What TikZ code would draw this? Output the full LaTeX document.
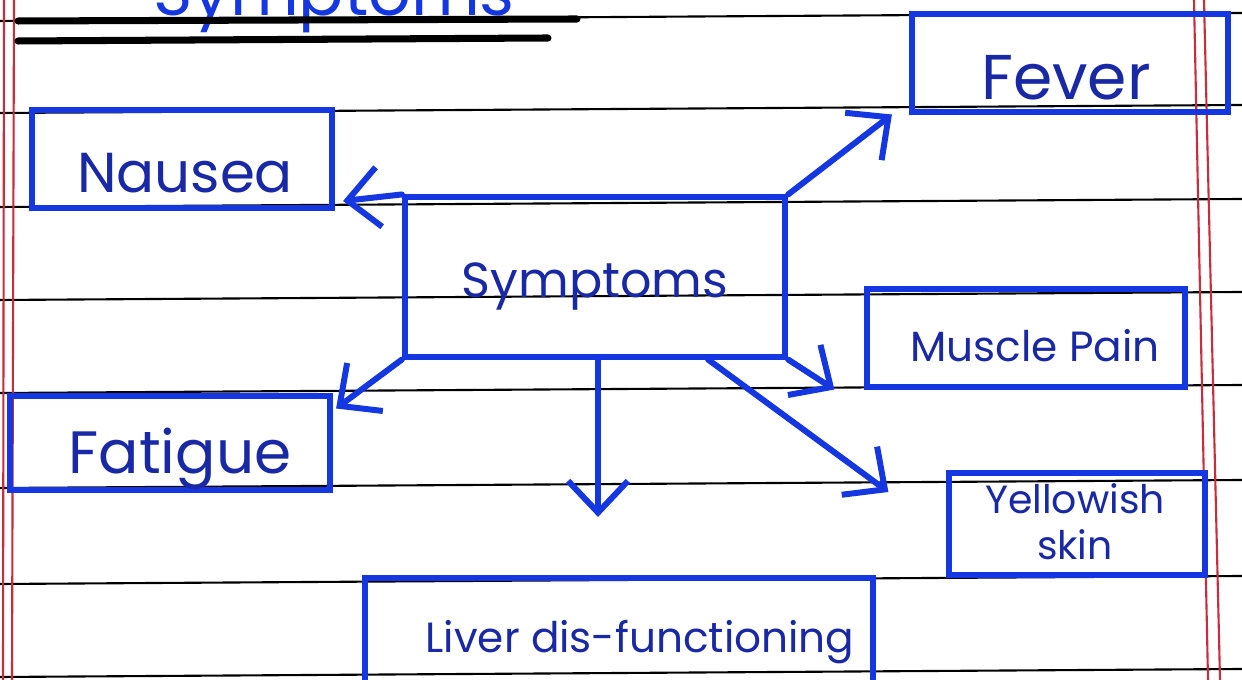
\documentclass[tikz,border=0pt]{standalone}
\usepackage{fontspec}
\setmainfont{Poppins}
\usetikzlibrary{arrows.meta}

\definecolor{ink}{RGB}{20,55,225}
\definecolor{inktext}{RGB}{25,40,165}
\definecolor{margin}{RGB}{200,45,60}

\begin{document}
\begin{tikzpicture}[x=0.01cm, y=-0.01cm,
    box/.style={draw=ink, line width=1.7pt, inner sep=0pt},
    txt/.style={text=inktext, inner sep=0pt, anchor=base},
    arr/.style={draw=ink, line width=1.7pt, line cap=round,
        -{Straight Barb[length=9pt, width=17pt]}},
    rule/.style={black, line width=0.6pt},
    uline/.style={black, line width=2pt, line cap=round},
    marginline/.style={margin, line width=0.6pt}]

    % Page of the notebook
    \useasboundingbox (0,0) rectangle (1242,680);
    \clip (0,0) rectangle (1242,680);
    \fill[white] (0,0) rectangle (1242,680);

    % Ruled lines and the red margins
    \foreach \y in {21,113,207,300,393,488,584,677}
        \draw[rule] (0,\y) -- (1242,\y-8);
    \draw[marginline] (4,0) -- (3,680);
    \draw[marginline] (14,0) -- (12,680);
    \draw[marginline] (1194,0) -- (1208,680);
    \draw[marginline] (1204,0) -- (1220,680);

    % Heading, cut off at the top, and its underlines
    \node[txt, text=ink, font=\fontsize{19}{19}\selectfont] (title) at (334,16) {Symptoms};
    \draw[uline] (18,21) -- (577,19);
    \draw[uline] (18,41) -- (548,38);

    % Boxes
    \node[box, minimum width=3.80cm, minimum height=1.59cm] (sym) at (595,277) {};
    \node[box, minimum width=3.16cm, minimum height=0.97cm] (fever) at (1070,63) {};
    \node[box, minimum width=3.00cm, minimum height=0.98cm] (nausea) at (182,159) {};
    \node[box, minimum width=3.17cm, minimum height=0.97cm] (muscle) at (1026,338) {};
    \node[box, minimum width=3.20cm, minimum height=0.93cm] (fatigue) at (170,443) {};
    \node[box, minimum width=2.55cm, minimum height=1.02cm] (yellow) at (1077,524) {};
    \node[box, minimum width=5.08cm, minimum height=1.20cm] (liver) at (619,638) {};

    % Texts in the boxes
    \node[txt, font=\fontsize{14}{14}\selectfont] (symLbl) at (595,298) {Symptoms};
    \node[txt, font=\fontsize{18}{18}\selectfont] (feverLbl) at (1066,100) {Fever};
    \node[txt, font=\fontsize{16}{16}\selectfont] (nauseaLbl) at (185,193) {Nausea};
    \node[txt, font=\fontsize{12}{12}\selectfont] (muscleLbl) at (1035,362) {Muscle Pain};
    \node[txt, font=\fontsize{17}{17}\selectfont] (fatigueLbl) at (180,474) {Fatigue};
    \node[txt, font=\fontsize{11.2}{13}\selectfont, anchor=center, align=center] (yellowLbl) at (1075,522) {Yellowish\\skin};
    \node[txt, font=\fontsize{12}{12}\selectfont] (liverLbl) at (640,653) {Liver dis-functioning};

    % Arrows out of the middle box
    \draw[arr] (sym.north east) -- ([xshift=-0.17cm]fever.south west);
    \draw[arr] (sym.north west) -- ([xshift=0.08cm, yshift=0.1cm]nausea.south east);
    \draw[arr] (sym.south west) -- ([xshift=0.03cm, yshift=-0.15cm]fatigue.north east);
    \draw[arr] (sym.south east) -- ([xshift=-0.3cm]muscle.south west);
    \draw[arr] ([xshift=1.13cm]sym.south) -- ([xshift=-0.58cm, yshift=-0.22cm]yellow.north west);
    \draw[arr] ([xshift=0.03cm]sym.south) -- ([xshift=-0.21cm, yshift=0.58cm]liver.north);
\end{tikzpicture}
\end{document}
